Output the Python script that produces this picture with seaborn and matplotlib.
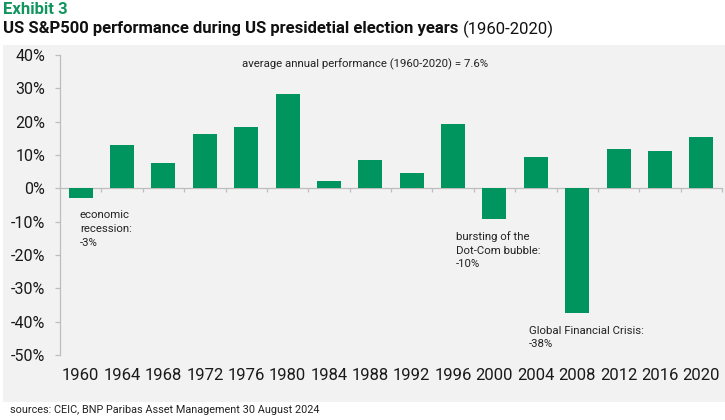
"""
plot.py
Recreates 'Exhibit 3' - S&P500 performance in US presidential election years.
"""

import matplotlib.pyplot as plt
import matplotlib.patches as mpatches
import numpy as np
import pandas as pd
import seaborn as sns

# ------------------------------------------------------------------------------
# Data
# ------------------------------------------------------------------------------
YEARS = ["1960", "1964", "1968", "1972", "1976", "1980", "1984", "1988",
         "1992", "1996", "2000", "2004", "2008", "2012", "2016", "2020"]
PERFORMANCE = [-3.0, 13.0, 7.7, 16.2, 18.3, 28.4, 2.1, 8.5,
               4.5, 19.2, -9.3, 9.4, -37.5, 11.8, 11.2, 15.3]
Y_TICKS = [40, 30, 20, 10, 0, -10, -20, -30, -40, -50]

GREEN = "#00955f"
TITLE_GREEN = "#12955f"
PANEL_GREY = "#f2f2f2"
SPINE_GREY = "#bdbdbd"

sns.set_theme(style="white")
plt.rcParams["font.family"] = ["Roboto", "DejaVu Sans"]

df = pd.DataFrame({"year": YEARS, "perf": PERFORMANCE})

W, H = 725, 420
fig = plt.figure(figsize=(W / 100, H / 100), dpi=100, facecolor="white")

# grey panel behind the chart
fig.patches.append(mpatches.Rectangle((3 / W, 1 - 402 / H), 1, (402 - 45) / H,
                                      transform=fig.transFigure,
                                      facecolor=PANEL_GREY, edgecolor="none",
                                      zorder=-5))

ax = fig.add_axes([60 / W, 1 - 355 / H, (722 - 60) / W, (355 - 55) / H])
ax.set_facecolor(PANEL_GREY)

sns.barplot(data=df, x="year", y="perf", color=GREEN, width=0.58,
            saturation=1, linewidth=0, ax=ax, zorder=3)

ax.set_xlim(-0.5, len(YEARS) - 0.5)
ax.set_ylim(-50, 40)
ax.set_yticks(Y_TICKS)
ax.set_yticklabels([f"{t}%" for t in Y_TICKS], fontsize=11.5, color="#1a1a1a")
ax.set_xlabel("")
ax.set_ylabel("")

for side in ["top", "right"]:
    ax.spines[side].set_visible(False)
ax.spines["left"].set_color(SPINE_GREY)
ax.spines["left"].set_linewidth(0.9)
ax.spines["bottom"].set_position(("data", 0))
ax.spines["bottom"].set_color(SPINE_GREY)
ax.spines["bottom"].set_linewidth(0.9)
ax.spines["bottom"].set_zorder(2)

ax.tick_params(axis="y", direction="out", length=3.6, width=0.9,
               color=SPINE_GREY, pad=7, left=True)
# category boundaries as small ticks under the zero line
ax.set_xticks(np.arange(0.5, len(YEARS), 1.0), minor=True)
ax.tick_params(axis="x", which="minor", direction="out", length=3,
               width=0.9, color=SPINE_GREY, bottom=True)
ax.tick_params(axis="x", which="major", length=0, labelbottom=False)

# year labels along the bottom of the plot area
sec = ax.secondary_xaxis("bottom")
sec.set_xticks(range(len(YEARS)), labels=YEARS)
sec.tick_params(length=0, pad=9, labelsize=12, labelcolor="#1a1a1a")
sec.spines["bottom"].set_visible(False)

# annotations
note_kw = dict(fontsize=8.2, color="#222222", linespacing=1.45, va="top", ha="left")
ax.text(6.87, 37.3, "average annual performance (1960-2020) = 7.6%",
        ha="center", va="center", fontsize=8.2, color="#222222")
ax.text(-0.02, -6.6, "economic\nrecession:\n-3%", **note_kw)
ax.text(9.06, -12.8, "bursting of the\nDot-Com bubble:\n-10%", **note_kw)
ax.text(10.83, -41.2, "Global Financial Crisis:\n-38%", **note_kw)

# titles and footer
fig.text(3 / W, 1 - 10 / H, "Exhibit 3", fontsize=12, fontweight="bold",
         color=TITLE_GREEN, va="center", ha="left")
t1 = fig.text(3 / W, 1 - 29 / H,
              "US S&P500 performance during US presidetial election years ",
              fontsize=12, fontweight="bold", color="#111111",
              va="center", ha="left")
fig.canvas.draw()
bb = t1.get_window_extent()
fig.text(bb.x1 / W, 1 - 29 / H, "(1960-2020)", fontsize=12, color="#111111",
         va="center", ha="left")
fig.text(10 / W, 1 - 410 / H,
         "sources: CEIC, BNP Paribas Asset Management 30 August 2024",
         fontsize=7.8, color="#222222", va="center", ha="left")

fig.savefig("out.png", dpi=100, facecolor="white")
plt.close(fig)
